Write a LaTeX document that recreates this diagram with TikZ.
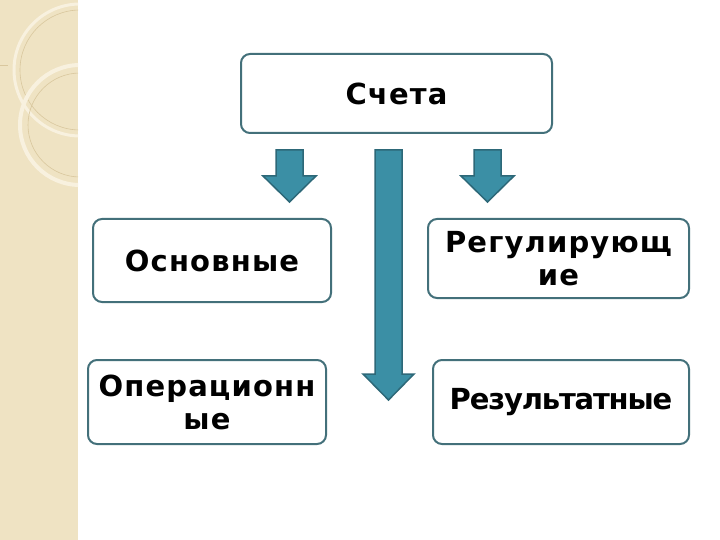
\documentclass[tikz,border=0pt]{standalone}
\usepackage{fontspec}
\setmainfont{DejaVu Sans}
\newfontfamily\boxfont[LetterSpace=4]{DejaVu Sans Bold}
\newfontfamily\boxfonttight[LetterSpace=-4]{DejaVu Sans Bold}
\definecolor{strip}{HTML}{EFE3C3}
\definecolor{ring}{HTML}{F8F1DF}
\definecolor{ringdark}{HTML}{D9C79E}
\definecolor{boxline}{HTML}{43707A}
\definecolor{arrowfill}{HTML}{3B8FA5}
\definecolor{arrowline}{HTML}{2D6878}
\tikzset{
  card/.style={draw=boxline, line width=2pt, rounded corners=9pt, fill=white,
    font=\boxfont\fontsize{29}{33}\selectfont, align=center, inner sep=0pt},
  blockarrow/.style={fill=arrowfill, draw=arrowline, line width=1.5pt, line join=miter}
}
\begin{document}
\begin{tikzpicture}[x=1pt,y=-1pt]
\useasboundingbox (0,0) rectangle (720,540);
\fill[white] (0,0) rectangle (720,540);
% decorative strip
\fill[strip] (0,0) rectangle (78,540);
\begin{scope}
\clip (0,0) rectangle (78,540);
\draw[ring, line width=3pt] (80,70) circle (66);
\draw[ringdark, line width=0.6pt] (80,70) circle (60);
\draw[ring, line width=4pt] (80,125) circle (60);
\draw[ringdark, line width=0.6pt] (80,125) circle (52);
\draw[ringdark, line width=0.6pt] (0,65) -- (8,65);
\end{scope}
% boxes
\node[card, minimum width=311pt, minimum height=79pt] (top) at (396.5,93.5) {Счета};
\node[card, minimum width=238pt, minimum height=83pt] (osn) at (212,260.5) {Основные};
\node[card, minimum width=261pt, minimum height=79pt] (reg) at (558.5,258.5) {Регулирующ\\ие};
\node[card, minimum width=238pt, minimum height=84pt] (oper) at (207,402) {Операционн\\ые};
\node[card, minimum width=256pt, minimum height=84pt, font=\boxfonttight\fontsize{29}{33}\selectfont] (res) at (561,402) {\raisebox{-4pt}{Результатные}};
% arrows
\draw[blockarrow] (276,150) -- (303,150) -- (303,176) -- (316,176) -- (289.5,202) -- (263,176) -- (276,176) -- cycle;
\draw[blockarrow] (474,150) -- (501,150) -- (501,176) -- (514,176) -- (487.5,202) -- (461,176) -- (474,176) -- cycle;
\draw[blockarrow] (375,150) -- (402,150) -- (402,374) -- (414,374) -- (388.5,400) -- (363,374) -- (375,374) -- cycle;
\end{tikzpicture}
\end{document}
